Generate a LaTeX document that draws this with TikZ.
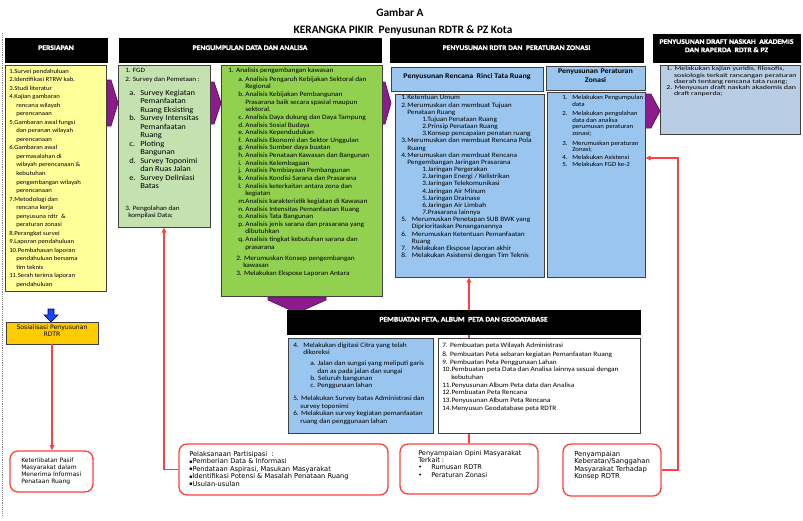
\documentclass[tikz,border=0pt]{standalone}
\usepackage{fontspec}
\setmainfont{Carlito}
\newfontfamily\cf[FakeStretch=1.1]{Carlito}
\newfontfamily\hf[FakeStretch=1.1, BoldFeatures={FakeBold=1.6}]{Carlito}
\newfontfamily\cfw[FakeStretch=1.35]{Carlito}
\newfontfamily\vf{DejaVu Sans}
\usetikzlibrary{fit,arrows.meta}
\definecolor{boxline}{RGB}{64,64,64}
\definecolor{kuning}{RGB}{255,255,153}
\definecolor{hijaumuda}{RGB}{196,225,176}
\definecolor{hijau}{RGB}{146,208,80}
\definecolor{biru}{RGB}{153,197,238}
\definecolor{birupucat}{RGB}{185,205,229}
\definecolor{emas}{RGB}{255,204,0}
\definecolor{ungu}{RGB}{140,28,140}
\definecolor{merah}{RGB}{255,64,64}
\definecolor{birutua}{RGB}{20,70,255}
\newcommand{\ind}[1]{\hspace*{#1}}
\newcommand{\lb}[2]{\makebox[#1][l]{#2}}
\newcommand{\setfs}[2]{\fontsize{#1}{#2}\selectfont}
\newcommand{\kotak}{{\fontsize{3.6}{4}\selectfont\raisebox{0.25pt}{▪}}}
\begin{document}
\begin{tikzpicture}[x=0.75pt, y=-0.75pt,
  hdr/.style={fill=black, draw=black, inner sep=0pt, text=white, align=center, font=\hf\bfseries\setfs{5.2}{6.2}},
  box/.style={draw=boxline, line width=0.6pt, inner sep=0pt},
  txt/.style={anchor=north west, inner sep=0pt, align=left},
  rbox/.style={draw=merah, line width=1pt, rounded corners=6pt, fill=white, inner sep=0pt},
  redline/.style={draw=merah, line width=0.8pt, -{Triangle[length=4pt,width=3.5pt]}},
  panah/.style={fill=ungu, draw=ungu!60!black, line width=0.5pt}]
\useasboundingbox (0,0) rectangle (803,521);
\node [font=\bfseries\setfs{8.5}{10}] (judul) at (400,13) {Gambar A};
\node [font=\bfseries\setfs{8.5}{10}] (subjudul) at (403,30) {KERANGKA PIKIR\ \ Penyusunan RDTR \& PZ Kota};
\draw [gray, densely dotted] (2.5,33) -- (2.5,515);
\draw [panah] (107,80) -- (111,80) -- (118,103) -- (111,126) -- (107,126) -- cycle;
\draw [panah] (210,82) -- (214,82) -- (221,103) -- (214,124) -- (210,124) -- cycle;
\draw [panah] (382,82) -- (385,82) -- (391,103) -- (385,124) -- (382,124) -- cycle;
\draw [panah] (645,94) -- (651,94) -- (660,111) -- (651,128) -- (645,128) -- cycle;
\draw [panah] (268,297) -- (326,297) -- (326,300) -- (297,313) -- (268,300) -- cycle;
\draw [fill=birutua, draw=blue!40!black, line width=0.5pt] (48,309) -- (54,309) -- (54,315) -- (58,315) -- (51,322) -- (44,315) -- (48,315) -- cycle;
\node [hdr, fit={(5,38) (107,62)}] (persiapan) {PERSIAPAN};
\node [hdr, fit={(119,38) (381,62)}] (pengumpulan) {PENGUMPULAN DATA DAN ANALISA};
\node [hdr, fit={(390,38) (643,62)}] (penyusunan) {PENYUSUNAN RDTR DAN\ \ PERATURAN ZONASI};
\node [hdr, fit={(653,34) (800,62)}] (draft) {PENYUSUNAN DRAFT NASKAH\ \ AKADEMIS\\DAN RAPERDA\ \ RDTR \& PZ};
\node [box, fill=kuning, fit={(5,65) (106,291)}] (siap) {};
\node [box, fill=hijaumuda, fit={(118,65) (210,227)}] (fgd) {};
\node [box, fill=hijau, fit={(221,65) (382,296)}] (analisa) {};
\node [box, fill=biru, fit={(391,67) (543,91)}, font=\cf\bfseries\setfs{5.4}{6}] (hrinci) {Penyusunan Rencana\ \ Rinci Tata Ruang};
\node [box, fill=biru, fit={(395,94) (544,277)}] (rinci) {};
\node [box, fill=biru, fit={(546,66) (645,90)}, align=center, font=\cf\bfseries\setfs{5.4}{6.2}] (hzonasi) {Penyusunan Peraturan\\Zonasi};
\node [box, fill=biru, fit={(547,92) (645,277)}] (zonasi) {};
\node [box, fill=birupucat, fit={(660,65) (800,134)}] (naskah) {};
\node [box, fill=emas, fit={(6,322) (98,344)}, align=center, font=\vf\setfs{4.6}{5.3}] (sosial) {Sosialisasi Penyusunan\\RDTR};
\node [rbox, fit={(10,451) (93,492)}] (pasif) {};
\node [rbox, fit={(179,444) (388,495)}] (partisipasi) {};
\node [rbox, fit={(400,444) (538,494)}] (opini) {};
\node [rbox, fit={(563,444) (661,496)}] (keberatan) {};
\draw [redline] (opini.north) -- (opini.north |- rinci.south);
\node [hdr, fit={(287,310) (640,334)}] (peta) {PEMBUATAN PETA, ALBUM\ \ PETA DAN GEODATABASE};
\node [box, fill=biru, fit={(288,338) (433,433)}] (digitasi) {};
\node [box, fill=white, fit={(438,338) (640,433)}] (album) {};
\draw [redline] (sosial.south) -- (sosial.south |- pasif.north);
\draw [redline] (partisipasi.west) -| (fgd.south);
\coordinate (kbelok) at (678,158);
\draw [redline] (keberatan.east) -| (kbelok) -- (kbelok -| zonasi.east);
\node [txt, font=\cf\setfs{4.6}{6.4}] (tsiap) at (9,68.6) {1.Survei pendahuluan\\
2.Identifikasi RTRW kab.\\
3.Studi literatur\\
4.Kajian gambaran\\
\ind{5.25pt}rencana wilayah\\
\ind{5.25pt}perencanaan\\
5.Gambaran awal fungsi\\
\ind{5.25pt}dan peranan wilayah\\
\ind{5.25pt}perencanaan\\
6.Gambaran awal\\
\ind{5.25pt}permasalahan di\\
\ind{5.25pt}wilayah perencanaan \&\\
\ind{5.25pt}kebutuhan\\
\ind{5.25pt}pengembangan wilayah\\
\ind{5.25pt}perencanaan\\
7.Metodologi dan\\
\ind{5.25pt}rencana kerja\\
\ind{5.25pt}penyusuna rdtr\ \ \&\\
\ind{5.25pt}peraturan zonasi\\
8.Perangkat survei\\
9.Laporan pendahuluan\\
10.Pembahasan laporan\\
\ind{5.25pt}pendahuluan bersama\\
\ind{5.25pt}tim teknis\\
11.Serah terima laporan\\
\ind{5.25pt}pendahuluan};
\node [txt, font=\cf\setfs{4.9}{6.75}] (tfgd) at (125,67.5) {1. FGD\\2. Survey dan Pemetaan :};
\node [txt, font=\cf\setfs{5.8}{6.34}] (tsurvey) at (129,89.9) {\lb{8.25pt}{a.}Survey Kegiatan\\
\ind{8.25pt}Pemanfaatan\\
\ind{8.25pt}Ruang Eksisting\\
\lb{8.25pt}{b.}Survey Intensitas\\
\ind{8.25pt}Pemanfaatan\\
\ind{8.25pt}Ruang\\
\lb{8.25pt}{c.}Ploting\\
\ind{8.25pt}Bangunan\\
\lb{8.25pt}{d.}Survey Toponimi\\
\ind{8.25pt}dan Ruas Jalan\\
\lb{8.25pt}{e.}Survey Deliniasi\\
\ind{8.25pt}Batas};
\node [txt, font=\cf\setfs{4.9}{5.6}] (tolah) at (125,205.5) {3. Pengolahan dan\\\ind{2.25pt}kompilasi Data;};
\node [txt, font=\cf\setfs{5}{5.73}] (tanalisa) at (228,67.3) {1. Analisis pengembangan kawasan\\[1pt]
\ind{7.5pt}\lb{5.25pt}{a.}Analisis Pengaruh Kebijakan Sektoral dan\\
\ind{12.75pt}Regional\\
\ind{7.5pt}\lb{5.25pt}{b.}Analisis Kebijakan Pembangunan\\
\ind{12.75pt}Prasarana baik secara spasial maupun\\
\ind{12.75pt}sektoral.\\
\ind{7.5pt}\lb{5.25pt}{c.}Analisis Daya dukung dan Daya Tampung\\
\ind{7.5pt}\lb{5.25pt}{d.}Analisis Sosial Budaya\\
\ind{7.5pt}\lb{5.25pt}{e.}Analisis Kependudukan\\
\ind{7.5pt}\lb{5.25pt}{f.}Analisis Ekonomi dan Sektor Unggulan\\
\ind{7.5pt}\lb{5.25pt}{g.}Analisis Sumber daya buatan\\
\ind{7.5pt}\lb{5.25pt}{h.}Analisis Penataan Kawasan dan Bangunan\\
\ind{7.5pt}\lb{5.25pt}{i.}Analisis Kelembagaan\\
\ind{7.5pt}\lb{5.25pt}{j.}Analisis Pembiayaan Pembangunan\\
\ind{7.5pt}\lb{5.25pt}{k.}Analisis Kondisi Sarana dan Prasarana\\
\ind{7.5pt}\lb{5.25pt}{l.}Analisis keterkaitan antara zona dan\\
\ind{12.75pt}kegiatan\\
\ind{7.5pt}\lb{5.25pt}{m.}Analisis karakteristik kegiatan di Kawasan\\
\ind{7.5pt}\lb{5.25pt}{n.}Analisis Intensitas Pemanfaatan Ruang\\
\ind{7.5pt}\lb{5.25pt}{o.}Analisis Tata Bangunan\\
\ind{7.5pt}\lb{5.25pt}{p.}Analisis jenis sarana dan prasarana yang\\
\ind{12.75pt}dibutuhkan\\
\ind{7.5pt}\lb{5.25pt}{q.}Analisis tingkat kebutuhan sarana dan\\
\ind{12.75pt}prasarana\\[2.5pt]
\ind{6pt}2. Merumuskan Konsep pengembangan\\
\ind{11.25pt}kawasan\\
\ind{6pt}3. Melakukan Ekspose Laporan Antara};
\node [txt, font=\cf\setfs{5}{5.38}] (trinci) at (401,95.3) {\lb{4.5pt}{1.}Ketentuan Umum\\
\lb{4.5pt}{2.}Merumuskan dan membuat Tujuan\\
\ind{4.5pt}Penataan Ruang\\
\ind{15.75pt}1.Tujuan Penataan Ruang\\
\ind{15.75pt}2.Prinsip Penataan Ruang\\
\ind{15.75pt}3.Konsep pencapaian penatan ruang\\
\lb{4.5pt}{3.}Merumuskan dan membuat Rencana Pola\\
\ind{4.5pt}Ruang\\
\lb{4.5pt}{4.}Merumuskan dan membuat Rencana\\
\ind{4.5pt}Pengembangan Jaringan Prasarana\\
\ind{15.75pt}1.Jaringan Pergerakan\\
\ind{15.75pt}2.Jaringan Energi / Kelistrikan\\
\ind{15.75pt}3.Jaringan Telekomunikasi\\
\ind{15.75pt}4.Jaringan Air Minum\\
\ind{15.75pt}5.Jaringan Drainase\\
\ind{15.75pt}6.Jaringan Air Limbah\\
\ind{15.75pt}7.Prasarana lainnya\\
\lb{8pt}{5.}Merumuskan Penetapan SUB BWK yang\\
\ind{8pt}Diprioritaskan Penanganannya\\
\lb{8pt}{6.}Merumuskan Ketentuan Pemanfaatan\\
\ind{8pt}Ruang\\
\lb{8pt}{7.}Melakukan Ekspose laporan akhir\\
\lb{8pt}{8.}Melakukan Asistensi dengan Tim Teknis};
\node [txt, font=\cf\setfs{4.7}{4.95}] (tzonasi) at (562,95.1) {\lb{7.5pt}{1.}Melakukan Pengumpulan\\
\ind{7.5pt}data\\[2pt]
\lb{7.5pt}{2.}Melakukan pengolahan\\
\ind{7.5pt}data dan analisa\\
\ind{7.5pt}perumusan peraturan\\
\ind{7.5pt}zonasi;\\[2.5pt]
\lb{7.5pt}{3.}Merumuskan peraturan\\
\ind{7.5pt}Zonasi;\\[1pt]
\lb{7.5pt}{4.}Melakukan Asistensi\\
\lb{7.5pt}{5.}Melakukan FGD ke-2};
\node [txt, font=\cfw\setfs{4.4}{4.7}] (tnaskah) at (666,66.5) {1. Melakukan kajian yuridis, filosofis,\\
\ind{5.8pt}sosiologis terkait rancangan peraturan\\
\ind{5.8pt}daerah tentang rencana tata ruang;\\
2. Menyusun draft naskah akademis dan\\
\ind{5.8pt}draft ranperda;};
\node [txt, font=\cf\setfs{5}{5.55}] (tdigitasi) at (293,342.3) {\lb{7.5pt}{4.}Melakukan digitasi Citra yang telah\\
\ind{7.5pt}dikoreksi\\[2.7pt]
\ind{12.75pt}a. Jalan dan sungai yang meliputi garis\\
\ind{18pt}dan as pada jalan dan sungai\\
\ind{12.75pt}b. Seluruh bangunan\\
\ind{12.75pt}c. Penggunaan lahan\\[4.2pt]
5. Melakukan Survey batas Administrasi dan\\
\ind{5.4pt}survey toponimi\\
6. Melakukan survey kegiatan pemanfaatan\\
\ind{5.4pt}ruang dan penggunaan lahan};
\node [txt, font=\cf\setfs{5}{5.8}] (talbum) at (442,342.3) {7. Pembuatan peta Wilayah Administrasi\\[1pt]
8. Pembuatan Peta sebaran kegiatan Pemanfaatan Ruang\\
9. Pembuatan Peta Penggunaan Lahan\\
10.Pembuatan peta Data dan Analisa lainnya sesuai dengan\\
\ind{6.75pt}kebutuhan\\
11.Penyusunan Album Peta data dan Analisa\\
12.Pembuatan Peta Rencana\\
13.Penyusunan Album Peta Rencana\\
14.Menyusun Geodatabase peta RDTR};
\node [txt, font=\vf\setfs{4.5}{5.25}] (tpasif) at (21,457.3) {Keterlibatan Pasif\\Masyarakat dalam\\Menerima Informasi\\Penataan Ruang};
\node [txt, font=\vf\setfs{5}{5.6}] (tpartisipasi) at (189,451) {Pelaksanaan Partisipasi\ \ :\\
\kotak Pemberian Data \& Informasi\\
\kotak Pendataan Aspirasi, Masukan Masyarakat\\
\kotak Identifikasi Potensi \& Masalah Penataan Ruang\\
\kotak Usulan-usulan};
\node [txt, font=\vf\setfs{4.9}{5.5}] (topini) at (418,450) {Penyampaian Opini Masyarakat\\
Terkait :\\
\lb{9.75pt}{•}Rumusan RDTR\\
\lb{9.75pt}{•}Peraturan Zonasi};
\node [txt, font=\vf\setfs{5.1}{5.5}] (tkeberatan) at (574,451) {Penyampaian\\Keberatan/Sanggahan\\Masyarakat Terhadap\\Konsep RDTR};
\end{tikzpicture}
\end{document}
